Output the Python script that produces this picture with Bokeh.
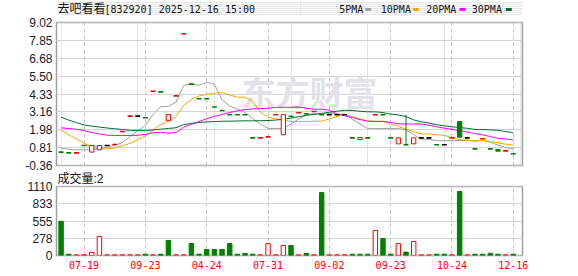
from bokeh.plotting import figure
from bokeh.models import Range1d, FixedTicker, Label, ColumnDataSource, PrintfTickFormatter, Grid
from bokeh.layouts import column
from bokeh.embed import file_html
from bokeh.resources import INLINE
from bokeh.core.properties import value

# ---------------- data ----------------
title_name = "去吧看看"
title_code = "[832920] 2025-12-16 15:00"
volume_title = "成交量"
volume_last = ":2"
watermark = "东方财富"
ma_names = ["5PMA", "10PMA", "20PMA", "30PMA"]

opens = [0.52, 0.47, 0.47, 0.95, 0.52, 0.67, 0.95, 1.02, 1.87, 2.88,
         2.88, 2.77, 4.51, 4.47, 2.58, 4.21, 8.28, 4.98, 4.02, 4.02,
         3.48, 3.25, 2.97, 2.97, 2.97, 1.45, 1.45, 1.52, 2.97, 1.66,
         2.87, 3.10, 3.03, 3.18, 2.97, 2.97, 2.97, 2.97, 1.45, 1.35,
         1.45, 2.97, 2.97, 1.45, 1.06, 1.00, 1.06, 1.45, 1.45, 1.00,
         1.00, 1.45, 2.53, 1.45, 0.73, 1.39, 0.73, 0.69, 0.60, 0.41]
highs = [0.52, 0.47, 0.47, 0.95, 0.95, 0.95, 0.95, 1.02, 1.87, 2.88,
         2.88, 2.77, 4.51, 4.47, 2.98, 4.21, 8.28, 4.98, 4.02, 4.02,
         3.48, 3.25, 2.97, 2.97, 2.97, 1.45, 1.45, 1.52, 2.97, 2.97,
         2.87, 3.10, 3.03, 3.18, 2.97, 2.97, 2.97, 2.97, 1.45, 1.48,
         1.45, 2.97, 2.97, 1.45, 1.45, 2.97, 1.45, 1.45, 1.45, 1.00,
         1.00, 1.45, 2.53, 1.45, 0.73, 1.39, 0.73, 0.69, 0.60, 0.41]
lows = [0.52, 0.47, 0.47, 0.95, 0.52, 0.67, 0.95, 1.02, 1.87, 2.88,
        2.88, 2.77, 4.51, 4.47, 2.58, 4.21, 8.28, 4.98, 4.02, 4.02,
        3.48, 3.25, 2.97, 2.97, 2.97, 1.45, 1.45, 1.52, 2.97, 1.66,
        2.87, 3.10, 3.03, 3.18, 2.97, 2.97, 2.97, 2.97, 1.45, 1.35,
        1.45, 2.97, 2.97, 1.45, 1.06, 1.00, 1.06, 1.45, 1.45, 1.00,
        1.00, 1.45, 1.50, 1.45, 0.73, 1.39, 0.73, 0.58, 0.60, 0.41]
closes = [0.52, 0.47, 0.47, 0.95, 0.95, 0.95, 0.95, 1.02, 1.87, 2.88,
          2.88, 2.77, 4.51, 4.47, 2.98, 4.21, 8.28, 4.98, 4.02, 4.02,
          3.48, 3.25, 2.97, 2.97, 2.97, 1.45, 1.45, 1.52, 2.97, 2.97,
          2.87, 3.10, 3.03, 3.18, 2.97, 2.97, 2.97, 2.97, 1.45, 1.48,
          1.45, 2.97, 2.97, 1.45, 1.45, 1.00, 1.45, 1.45, 1.45, 1.00,
          1.00, 1.45, 1.50, 1.45, 0.73, 1.39, 0.73, 0.58, 0.60, 0.41]
moves = ["down", "down", "up", "up", "up", "up", "flat", "up", "up", "up",
         "flat", "down", "up", "down", "up", "up", "up", "down", "down", "down",
         "down", "down", "down", "down", "down", "down", "up", "up", "up", "up",
         "down", "up", "down", "up", "down", "flat", "flat", "flat", "down", "up",
         "down", "up", "down", "down", "up", "down", "up", "flat", "flat", "down",
         "flat", "up", "down", "flat", "down", "up", "down", "down", "up", "down"]

volumes = [550, 20, 10, 10, 48, 306, 10, 10, 10, 10,
           10, 20, 10, 20, 241, 10, 10, 193, 20, 97,
           97, 97, 193, 20, 32, 20, 10, 190, 10, 161,
           161, 10, 32, 10, 1014, 10, 10, 10, 20, 20,
           20, 402, 274, 20, 193, 54, 225, 10, 10, 20,
           20, 10, 1030, 10, 20, 20, 35, 20, 10, 20]
volume_moves = ["down", "down", "up", "up", "up", "up", "up", "up", "up", "up",
                "up", "down", "up", "down", "down", "up", "up", "down", "down", "down",
                "down", "down", "down", "down", "down", "down", "up", "up", "up", "up",
                "down", "up", "down", "up", "down", "up", "up", "up", "down", "down",
                "down", "up", "down", "down", "up", "down", "up", "up", "up", "down",
                "down", "up", "down", "up", "down", "down", "down", "down", "up", "down"]

ma5 = [0.78, 0.70, 0.67, 0.67, 0.67, 0.76, 0.85, 0.96, 1.15, 1.53,
       1.92, 2.28, 2.98, 3.50, 3.52, 3.79, 4.89, 4.99, 4.90, 5.11,
       4.96, 3.95, 3.54, 3.33, 3.12, 2.72, 2.36, 2.07, 2.07, 2.07,
       2.36, 2.69, 2.99, 3.03, 3.03, 3.05, 3.02, 3.01, 2.67, 2.37,
       2.06, 2.06, 2.06, 2.06, 2.06, 1.97, 1.66, 1.36, 1.36, 1.27,
       1.27, 1.27, 1.28, 1.28, 1.23, 1.30, 1.16, 0.98, 0.81, 0.74]
ma10 = [1.98, 1.65, 1.39, 1.10, 0.88, 0.75, 0.73, 0.80, 0.93, 1.10,
        1.34, 1.57, 1.97, 2.32, 2.53, 2.85, 3.59, 3.98, 4.20, 4.31,
        4.37, 4.42, 4.27, 4.12, 4.12, 3.84, 3.16, 2.81, 2.70, 2.60,
        2.54, 2.52, 2.53, 2.55, 2.55, 2.70, 2.86, 3.00, 2.85, 2.70,
        2.56, 2.54, 2.54, 2.37, 2.21, 2.02, 1.86, 1.71, 1.71, 1.66,
        1.62, 1.47, 1.32, 1.32, 1.25, 1.29, 1.22, 1.13, 1.04, 0.98]
ma20 = [2.11, 2.07, 2.02, 1.92, 1.80, 1.71, 1.63, 1.61, 1.61, 1.61,
        1.62, 1.68, 1.79, 1.82, 1.76, 1.80, 2.15, 2.35, 2.52, 2.71,
        2.86, 2.99, 3.12, 3.22, 3.32, 3.35, 3.37, 3.40, 3.45, 3.46,
        3.46, 3.47, 3.40, 3.33, 3.33, 3.27, 3.01, 2.90, 2.78, 2.65,
        2.55, 2.53, 2.53, 2.46, 2.38, 2.36, 2.36, 2.36, 2.28, 2.18,
        2.09, 2.01, 1.93, 1.84, 1.73, 1.65, 1.54, 1.42, 1.38, 1.32]
ma30 = [2.81, 2.62, 2.45, 2.30, 2.22, 2.16, 2.10, 2.05, 2.00, 1.95,
        1.94, 1.94, 1.97, 2.02, 2.07, 2.12, 2.32, 2.40, 2.46, 2.50,
        2.52, 2.54, 2.55, 2.56, 2.57, 2.57, 2.58, 2.59, 2.62, 2.67,
        2.75, 2.84, 2.92, 3.00, 3.06, 3.13, 3.20, 3.26, 3.25, 3.20,
        3.16, 3.16, 3.11, 3.01, 2.96, 2.85, 2.63, 2.51, 2.42, 2.32,
        2.24, 2.18, 2.13, 2.08, 2.00, 2.00, 1.98, 1.95, 1.87, 1.78]

x_tick_pos = [3, 11, 19, 27, 35, 43, 51, 59]
x_tick_labels = ["07-19", "09-23", "04-24", "07-31", "09-02", "09-23", "10-24", "12-16"]
price_ticks = [-0.36, 0.81, 1.98, 3.16, 4.33, 5.50, 6.68, 7.85, 9.02]
volume_ticks = [0, 278, 555, 833, 1110]

# ---------------- styles ----------------
UP = "#ff0000"
DOWN = "#008000"
FLAT = "#000000"
MA_COLORS = ["#a0a0a0", "#f0a800", "#ff00ff", "#006f35"]
GRID_H = "#d4d4d4"
GRID_V = "#c4c4c4"
OUTLINE = "#a0a0a0"
LABEL_C = "#1a1a30"
TEXT_C = "#111111"
MONO = "DejaVu Sans Mono"
CJK = "Noto Sans CJK SC"
MIXED = "Liberation Sans, Noto Sans CJK SC"

W = 578
xs = list(range(len(closes)))
move_color = {"up": UP, "down": DOWN, "flat": FLAT}

# ---------------- header strip (title + MA legend), pixel coordinates ----------------
p0 = figure(width=W, height=15, x_range=Range1d(56, 522), y_range=Range1d(15, 0),
            output_backend="svg", toolbar_location=None, tools="", title=None,
            x_axis_location=None, y_axis_location=None)
p0.min_border_left = 56
p0.min_border_right = 56
p0.min_border_top = 0
p0.min_border_bottom = 0
p0.outline_line_color = None
p0.background_fill_color = "white"
p0.border_fill_color = "white"
p0.text(x=[57], y=[8], text=[title_name], text_font=value(MIXED), text_font_size="12px",
        text_baseline="middle", text_color=TEXT_C)
p0.text(x=[104], y=[8.5], text=[title_code], text_font=value(MONO), text_font_size="10px",
        text_baseline="middle", text_color=TEXT_C)
legend_text_x = [338.7, 380.3, 425.7, 471.3]
legend_swatch_x0 = [364.7, 412.3, 459.0, 505.3]
p0.text(x=legend_text_x, y=[8.5] * 4, text=ma_names, text_font=value(MONO),
        text_font_size="10px", text_baseline="middle", text_color=TEXT_C)
p0.segment(x0=legend_swatch_x0, y0=[9] * 4, x1=[v + 6 for v in legend_swatch_x0], y1=[9] * 4,
           line_color=MA_COLORS, line_width=3)

# ---------------- price panel ----------------
x_range = Range1d(-0.6, 60.2)

p1 = figure(width=W, height=157, x_range=x_range, y_range=Range1d(-0.3601, 9.0201),
            output_backend="svg", toolbar_location=None, tools="", title=None,
            x_axis_location=None)
p1.min_border_left = 56
p1.min_border_right = 56
p1.min_border_top = 7
p1.min_border_bottom = 7

# ---------------- volume panel ----------------
p2 = figure(width=W, height=104, x_range=x_range, y_range=Range1d(-0.5, 1110.5),
            output_backend="svg", toolbar_location=None, tools="",
            title=volume_title + volume_last)
p2.min_border_left = 56
p2.min_border_right = 56
p2.min_border_top = 14
p2.min_border_bottom = 21
p2.title.align = "left"
p2.title.vertical_align = "top"
p2.title.offset = 1
p2.title.standoff = -2
p2.title.text_font = MIXED
p2.title.text_font_size = "12px"
p2.title.text_font_style = "normal"
p2.title.text_color = TEXT_C

for p in (p1, p2):
    p.background_fill_color = "white"
    p.border_fill_color = "white"
    p.outline_line_color = OUTLINE
    p.outline_line_width = 1.5
    ax = p.yaxis[0]
    ax.axis_line_color = None
    ax.major_tick_line_color = None
    ax.minor_tick_line_color = None
    ax.major_tick_out = 0
    ax.major_tick_in = 0
    ax.major_label_standoff = 4
    ax.major_label_text_font = "Liberation Sans"
    ax.major_label_text_font_size = "12px"
    ax.major_label_text_color = LABEL_C
    p.ygrid.grid_line_color = GRID_H
    p.ygrid.grid_line_width = 1

p1.yaxis.ticker = FixedTicker(ticks=price_ticks)
p1.yaxis.formatter = PrintfTickFormatter(format="%.2f")
p1.ygrid.ticker = FixedTicker(ticks=price_ticks)
p1.add_layout(Grid(dimension=0, ticker=FixedTicker(ticks=x_tick_pos),
                   grid_line_color=GRID_V, grid_line_dash="4 3"))

p2.yaxis.ticker = FixedTicker(ticks=volume_ticks)
p2.yaxis.formatter = PrintfTickFormatter(format="%d")
p2.ygrid.ticker = FixedTicker(ticks=volume_ticks)
p2.xgrid.ticker = FixedTicker(ticks=x_tick_pos)
p2.xgrid.grid_line_color = GRID_V
p2.xgrid.grid_line_dash = "4 3"
xa = p2.xaxis[0]
xa.ticker = FixedTicker(ticks=x_tick_pos)
xa.major_label_overrides = {pos: lab for pos, lab in zip(x_tick_pos, x_tick_labels)}
xa.axis_line_color = None
xa.major_tick_line_color = None
xa.minor_tick_line_color = None
xa.major_tick_out = 0
xa.major_tick_in = 0
xa.major_label_standoff = 5
xa.major_label_text_font = MONO
xa.major_label_text_font_size = "10px"
xa.major_label_text_color = UP

# watermark
p1.add_layout(Label(x=32.4, y=4.49, text=watermark, text_font=CJK, text_font_style="bold",
                    text_font_size="34px", text_color="#e2e2e9", text_align="center",
                    text_baseline="middle", level="underlay"))

# moving averages
for vals, col in zip([ma5, ma10, ma20, ma30], MA_COLORS):
    p1.line(xs, vals, line_color=col, line_width=1)

# candles
wick = dict(x=[], y0=[], y1=[], c=[])
body = dict(x=[], top=[], bottom=[], fill=[], line=[])
flat = dict(x0=[], x1=[], y=[], c=[])
for i in xs:
    o, h, l, c, m = opens[i], highs[i], lows[i], closes[i], moves[i]
    col = move_color[m]
    if h > max(o, c) or l < min(o, c):
        wick["x"].append(i); wick["y0"].append(l); wick["y1"].append(h); wick["c"].append(col)
    if o != c:
        body["x"].append(i); body["top"].append(max(o, c)); body["bottom"].append(min(o, c))
        body["fill"].append("white" if m == "up" else col); body["line"].append(col)
    else:
        flat["x0"].append(i - 0.32); flat["x1"].append(i + 0.32); flat["y"].append(c); flat["c"].append(col)

p1.segment(x0="x", y0="y0", x1="x", y1="y1", line_color="c", line_width=1,
           source=ColumnDataSource(wick))
p1.vbar(x="x", top="top", bottom="bottom", width=0.56, fill_color="fill", line_color="line",
        line_width=1, source=ColumnDataSource(body))
p1.segment(x0="x0", y0="y", x1="x1", y1="y", line_color="c", line_width=1.6,
           source=ColumnDataSource(flat))

# volume bars
vsrc = ColumnDataSource(dict(
    x=xs, top=volumes,
    fill=["white" if m == "up" else move_color[m] for m in volume_moves],
    line=[move_color[m] for m in volume_moves]))
p2.vbar(x="x", top="top", bottom=0, width=0.58, fill_color="fill", line_color="line",
        line_width=1, source=vsrc)

layout = column(p0, p1, p2)
open("out.html", "w").write(file_html(layout, INLINE))
